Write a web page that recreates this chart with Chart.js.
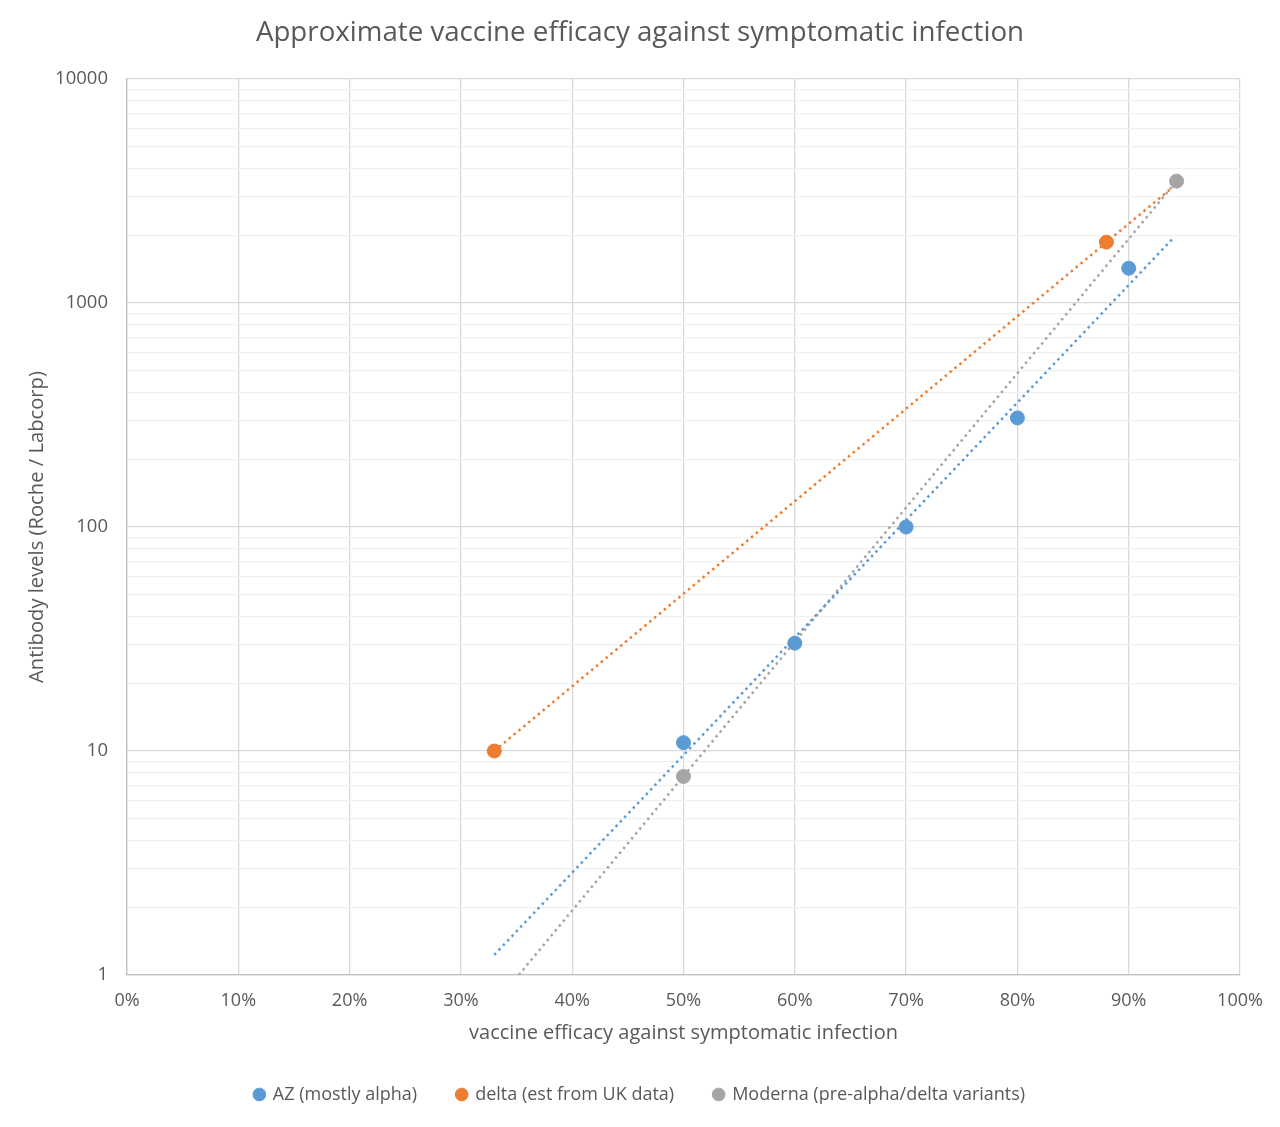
<!DOCTYPE html>
<html>
<head>
<meta charset="utf-8">
<title>Approximate vaccine efficacy against symptomatic infection</title>
<script src="https://cdn.jsdelivr.net/npm/chart.js@4/dist/chart.umd.min.js"></script>
<style>
  html, body { margin: 0; padding: 0; background: #fff; }
  #wrap { width: 1280px; height: 1127px; }
</style>
</head>
<body>
<div id="wrap"><canvas id="myChart" width="1280" height="1127"></canvas></div>
<script>
'use strict';
// data (x = efficacy %, y = antibody level)
const azEfficacy = [50, 60, 70, 80, 90];
const azAntibody = [10.9, 30.3, 100, 307, 1430];

const deltaEfficacy = [33, 88];
const deltaAntibody = [10, 1870];

const modernaEfficacy = [50, 94.3];
const modernaAntibody = [7.7, 3500];

// dotted trendline end points as they appear in the picture
const azTrendX = [33, 94];
const azTrendY = [1.23, 1950];
const deltaTrendX = [33, 94.3];
const deltaTrendY = [10, 3400];
const modernaTrendX = [35.2, 94.3];
const modernaTrendY = [1, 3500];

// axis ticks
const logDecades = [1, 10, 100, 1000, 10000];
const xTickStep = 10;

const seriesNames = ['AZ (mostly alpha)', 'delta (est from UK data)', 'Moderna (pre-alpha/delta variants)'];
const seriesColors = ['#5b9bd5', '#ed7d31', '#a5a5a5'];

const FONT = '"Open Sans", "Noto Sans", sans-serif';
const TEXT_COLOR = '#595959';
const LEGEND_PAD = 40;
const LEGEND_FONT = 18;
const SIDE_PAD = 40; // same both sides so title and legend stay centred

function toPoints(xs, ys) {
  const pts = [];
  for (let i = 0; i < xs.length; i++) {
    pts.push({ x: xs[i], y: ys[i] });
  }
  return pts;
}

function pointSet(i, xs, ys) {
  return {
    label: seriesNames[i],
    data: toPoints(xs, ys),
    showLine: false,
    pointRadius: 7,
    pointHoverRadius: 7,
    backgroundColor: seriesColors[i],
    borderColor: seriesColors[i],
    order: 0,
  };
}

function trendSet(i, xs, ys) {
  return {
    label: 'trend',
    data: toPoints(xs, ys),
    showLine: true,
    pointRadius: 0,
    borderColor: seriesColors[i],
    borderWidth: 2.5,
    borderDash: [2.5, 3.8],
    fill: false,
    order: 1,
  };
}

function isDecade(v) {
  return logDecades.includes(v);
}

const ctx = document.getElementById('myChart').getContext('2d');
new Chart(ctx, {
  type: 'scatter',
  data: {
    datasets: [
      pointSet(0, azEfficacy, azAntibody),
      pointSet(1, deltaEfficacy, deltaAntibody),
      pointSet(2, modernaEfficacy, modernaAntibody),
      trendSet(0, azTrendX, azTrendY),
      trendSet(1, deltaTrendX, deltaTrendY),
      trendSet(2, modernaTrendX, modernaTrendY),
    ],
  },
  options: {
    responsive: false,
    animation: false,
    layout: { padding: { left: SIDE_PAD, right: SIDE_PAD, top: 0, bottom: 13.5 } },
    plugins: {
      title: {
        display: true,
        text: 'Approximate vaccine efficacy against symptomatic infection',
        color: TEXT_COLOR,
        font: { family: FONT, size: 27.7, weight: 'normal' },
        padding: { top: 16.4, bottom: 29.4 },
      },
      legend: {
        position: 'bottom',
        labels: {
          usePointStyle: true,
          pointStyle: 'circle',
          boxWidth: 9,
          boxHeight: 9,
          padding: LEGEND_PAD,
          color: TEXT_COLOR,
          font: { family: FONT, size: LEGEND_FONT },
          filter: function (item) {
            return item.datasetIndex < 3;
          },
        },
      },
      tooltip: { enabled: false },
    },
    scales: {
      x: {
        type: 'linear',
        min: 0,
        max: 100,
        afterFit: function (scale) {
          scale.height = 1113.5 - (LEGEND_FONT + 10) - LEGEND_PAD - 975;
        },
        ticks: {
          stepSize: xTickStep,
          padding: 15,
          color: TEXT_COLOR,
          font: { family: FONT, size: 18 },
          callback: function (v) {
            return v + '%';
          },
        },
        grid: { color: '#d9d9d9', lineWidth: 1.3, drawTicks: false },
        border: { color: '#bfbfbf', width: 1.3 },
        title: {
          display: true,
          text: 'vaccine efficacy against symptomatic infection',
          color: TEXT_COLOR,
          font: { family: FONT, size: 20 },
          padding: { top: 0, bottom: 0 },
        },
      },
      y: {
        type: 'logarithmic',
        min: 1,
        max: 10000,
        afterFit: function (scale) {
          scale.width = 127 - SIDE_PAD;
        },
        afterBuildTicks: function (scale) {
          const ticks = [];
          for (let d = 0; d < logDecades.length - 1; d++) {
            for (let m = 1; m < 10; m++) {
              ticks.push({ value: logDecades[d] * m });
            }
          }
          ticks.push({ value: logDecades[logDecades.length - 1] });
          scale.ticks = ticks;
        },
        ticks: {
          autoSkip: false,
          padding: 19,
          color: TEXT_COLOR,
          font: { family: FONT, size: 18.5 },
          callback: function (v) {
            return isDecade(v) ? String(v) : '';
          },
        },
        grid: {
          drawTicks: false,
          color: function (c) {
            return c.tick && isDecade(c.tick.value) ? '#d9d9d9' : '#f0f0f0';
          },
          lineWidth: function (c) {
            return c.tick && isDecade(c.tick.value) ? 1.3 : 1.2;
          },
        },
        border: { color: '#bfbfbf', width: 1.3 },
        title: {
          display: true,
          text: 'Antibody levels (Roche / Labcorp)',
          color: TEXT_COLOR,
          font: { family: FONT, size: 20.2 },
          padding: { top: 25 - SIDE_PAD, bottom: 0 },
        },
      },
    },
  },
});
</script>
</body>
</html>
